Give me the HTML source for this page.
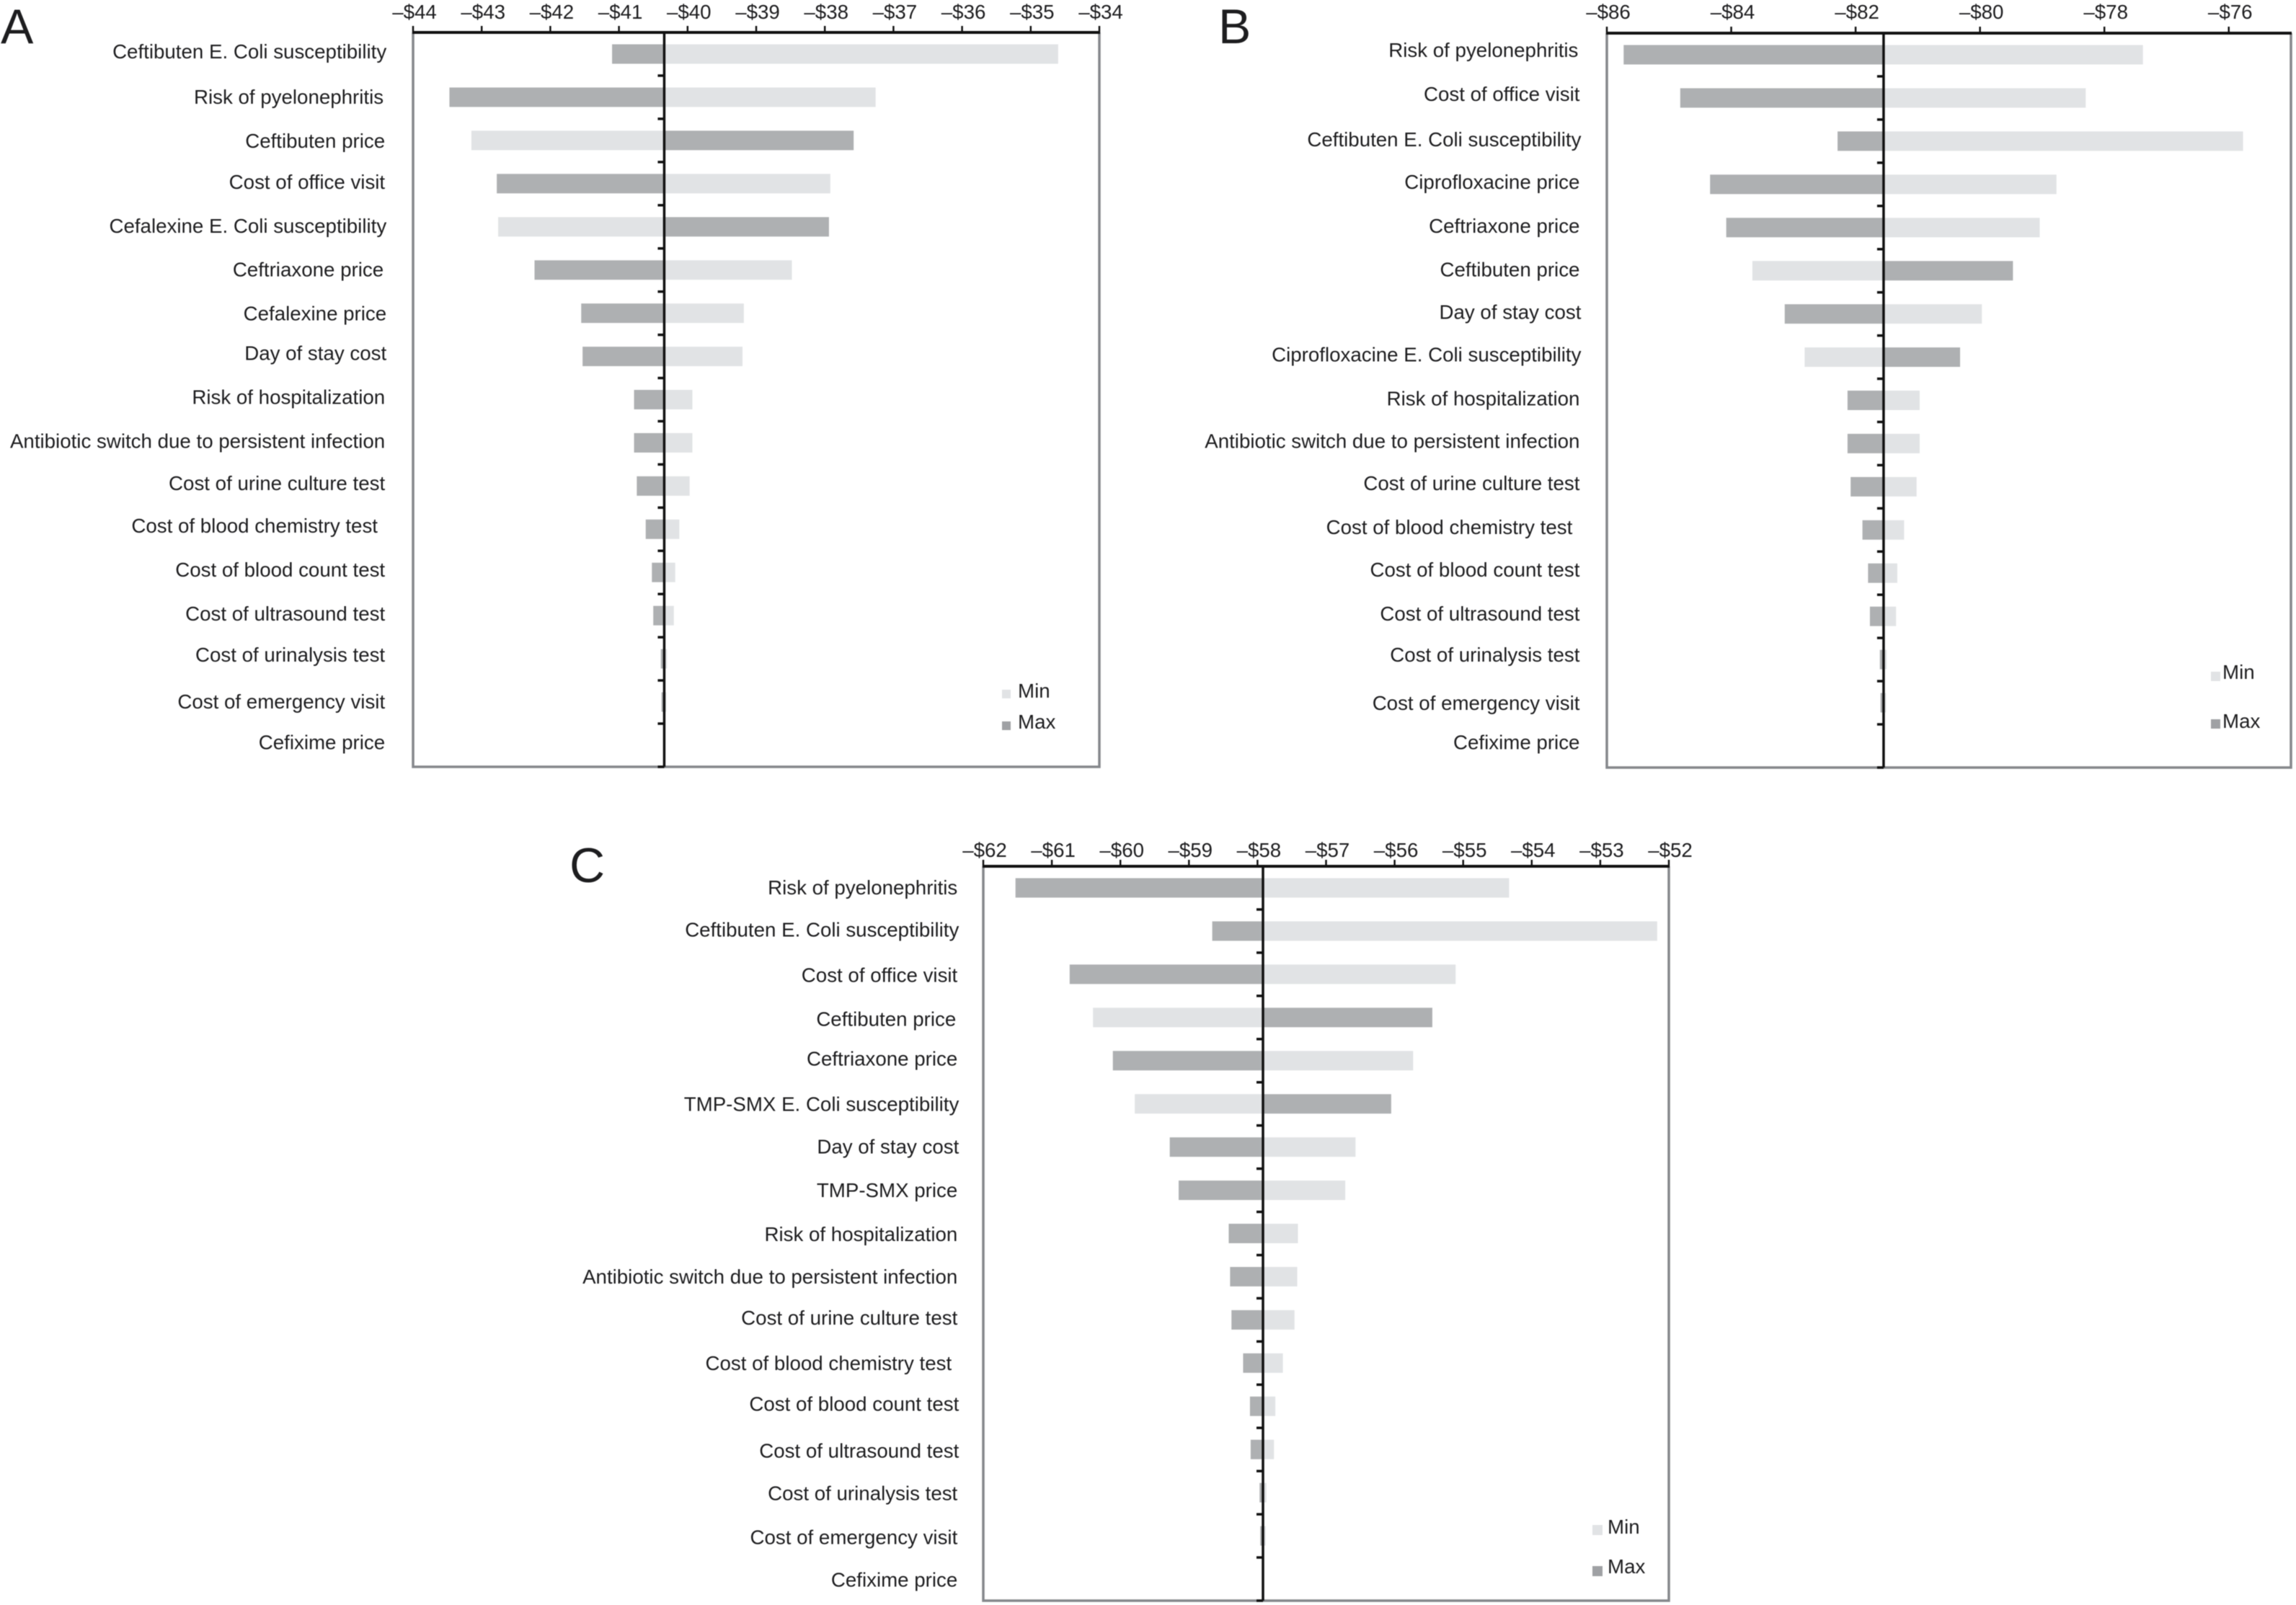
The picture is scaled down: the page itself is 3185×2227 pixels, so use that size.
<!DOCTYPE html>
<html lang="en">
<head>
<meta charset="utf-8">
<title>Tornado diagrams A, B and C</title>
<style>
html,body{margin:0;padding:0;background:#fff;}
svg{display:block;filter:blur(0.6px);}
text{font-family:"Liberation Sans",Arial,sans-serif;fill:#1d1d1f;}
</style>
</head>
<body>
<svg id="figure" xmlns="http://www.w3.org/2000/svg" width="3185" height="2227" viewBox="0 0 3185 2227"></svg>
<script>
// ---------- Data: categories ----------
const categoriesA = ["Ceftibuten E. Coli susceptibility","Risk of pyelonephritis","Ceftibuten price","Cost of office visit","Cefalexine E. Coli susceptibility","Ceftriaxone price","Cefalexine price","Day of stay cost","Risk of hospitalization","Antibiotic switch due to persistent infection","Cost of urine culture test","Cost of blood chemistry test","Cost of blood count test","Cost of ultrasound test","Cost of urinalysis test","Cost of emergency visit","Cefixime price"];
const categoriesB = ["Risk of pyelonephritis","Cost of office visit","Ceftibuten E. Coli susceptibility","Ciprofloxacine price","Ceftriaxone price","Ceftibuten price","Day of stay cost","Ciprofloxacine E. Coli susceptibility","Risk of hospitalization","Antibiotic switch due to persistent infection","Cost of urine culture test","Cost of blood chemistry test","Cost of blood count test","Cost of ultrasound test","Cost of urinalysis test","Cost of emergency visit","Cefixime price"];
const categoriesC = ["Risk of pyelonephritis","Ceftibuten E. Coli susceptibility","Cost of office visit","Ceftibuten price","Ceftriaxone price","TMP-SMX E. Coli susceptibility","Day of stay cost","TMP-SMX price","Risk of hospitalization","Antibiotic switch due to persistent infection","Cost of urine culture test","Cost of blood chemistry test","Cost of blood count test","Cost of ultrasound test","Cost of urinalysis test","Cost of emergency visit","Cefixime price"];

// ---------- Data: outcome when the parameter is at its Min / Max ----------
const minA = [-34.60,-37.26,-43.15,-37.92,-42.76,-38.48,-39.18,-39.20,-39.93,-39.93,-39.97,-40.12,-40.18,-40.20,-40.30,-40.31,-40.34];
const maxA = [-41.10,-43.47,-37.58,-42.78,-37.94,-42.23,-41.55,-41.53,-40.78,-40.78,-40.74,-40.61,-40.52,-40.50,-40.39,-40.38,-40.34];
const minB = [-77.38,-78.30,-75.77,-78.77,-79.04,-83.66,-79.97,-82.82,-80.97,-80.97,-81.02,-81.22,-81.33,-81.35,-81.50,-81.51,-81.55];
const maxB = [-85.73,-84.82,-82.29,-84.34,-84.08,-79.47,-83.14,-80.32,-82.13,-82.13,-82.08,-81.89,-81.80,-81.77,-81.61,-81.60,-81.55];
const minC = [-54.33,-52.17,-55.11,-60.40,-55.73,-59.79,-56.57,-56.72,-57.41,-57.42,-57.46,-57.63,-57.74,-57.76,-57.87,-57.88,-57.92];
const maxC = [-61.53,-58.66,-60.74,-55.45,-60.11,-56.05,-59.28,-59.15,-58.42,-58.40,-58.38,-58.21,-58.11,-58.10,-57.97,-57.96,-57.92];

// ---------- Data: base case and axis ticks ----------
const baseA = -40.34;
const baseB = -81.55;
const baseC = -57.92;
const ticksA = [-44,-43,-42,-41,-40,-39,-38,-37,-36,-35,-34];
const ticksB = [-86,-84,-82,-80,-78,-76];
const ticksC = [-62,-61,-60,-59,-58,-57,-56,-55,-54,-53,-52];
const domainA = [-44,-34];
const domainB = [-86,-75];
const domainC = [-62,-52];

// ---------- Layout (no data values) ----------
const SCALE = 2.031;
const LIGHT = "#e1e3e5", DARK = "#aeb0b2", FRAME = "#85888c", INK = "#111";
const FONT = 27.7;

const panels = [
 {id:"a", letter:"A", letterX:1, letterY:60, left:573, right:1525, top:45, bottom:1064, tickBaseline:26,
  cats:categoriesA, mins:minA, maxs:maxA, base:baseA, ticks:ticksA, domain:domainA,
  lblRight:[264,262,263,263,264,262,264,264,263,263,263,258,263,263,263,263,263],
  lblY:[35,66,96,124,154,184,214,241,271,301,330,359,389,419,447,479,507],
  legend:{sx:1390,minY:957,maxY:1001,size:12,tx:1412,minB:968,maxB:1011}},
 {id:"b", letter:"B", letterX:1690, letterY:60, left:2229, right:3178, top:46, bottom:1065, tickBaseline:26,
  cats:categoriesB, mins:minB, maxs:maxB, base:baseB, ticks:ticksB, domain:domainB,
  lblRight:[1078,1079,1080,1079,1079,1079,1080,1080,1079,1079,1079,1074,1079,1079,1079,1079,1079],
  lblY:[34,64,95,124,154,184,213,242,272,301,330,360,389,419,447,480,507],
  legend:{sx:3067,minY:932,maxY:998,size:13,tx:3083,minB:942,maxB:1010}},
 {id:"c", letter:"C", letterX:790, letterY:1224, left:1364, right:2315, top:1202, bottom:2221, tickBaseline:1189,
  cats:categoriesC, mins:minC, maxs:maxC, base:baseC, ticks:ticksC, domain:domainC,
  lblRight:[654,655,654,653,654,655,655,654,654,654,654,650,655,655,654,654,654],
  lblY:[606,635,666,696,723,754,783,813,843,872,900,931,959,991,1020,1050,1079],
  legend:{sx:2209,minY:2116,maxY:2173,size:14,tx:2230,minB:2128,maxB:2183}}
];

const NS = "http://www.w3.org/2000/svg";
const root = document.getElementById("figure");

function make(tag, parent, attrs){
  const n = document.createElementNS(NS, tag);
  for (const k in attrs) n.setAttribute(k, attrs[k]);
  parent.appendChild(n);
  return n;
}

function slug(s){
  return s.toLowerCase().replace(/[^a-z0-9]+/g, "-").replace(/^-|-$/g, "");
}

panels.forEach(function(p){
  const x = function(v){
    return p.left + (v - p.domain[0]) * (p.right - p.left) / (p.domain[1] - p.domain[0]);
  };
  const rowH = (p.bottom - p.top) / p.cats.length;
  const rowY = function(i){ return p.top + rowH * (i + 0.5); };
  const barH = 27;

  const g = make("g", root, {});
  
  

  const letter = make("text", g, {x:p.letterX, y:p.letterY, "font-size":68});
  letter.textContent = p.letter;
  
  

  // bars
  p.cats.forEach(function(cat, i){
    const xb = x(p.base);
    [[p.mins[i], LIGHT, "min"], [p.maxs[i], DARK, "max"]].forEach(function(s){
      const xv = x(s[0]);
      const bar = make("rect", g, {x:Math.min(xb, xv), y:rowY(i) - barH / 2, width:Math.abs(xv - xb), height:barH, fill:s[1]});
      
      
    });

    const label = make("text", g, {x:p.lblRight[i] * SCALE, y:p.lblY[i] * SCALE + 10, "font-size":FONT, "text-anchor":"end"});
    label.textContent = cat;
    
    
  });

  // frame
  const frame = make("path", g, {d:"M" + p.left + " " + p.top + "V" + p.bottom + "H" + p.right + "V" + p.top, fill:"none", stroke:FRAME, "stroke-width":3.5});
  
  

  // top axis
  const axis = make("line", g, {x1:p.left - 1, x2:p.right + 1, y1:p.top, y2:p.top, stroke:INK, "stroke-width":4});
  
  

  p.ticks.forEach(function(t){
    const tick = make("line", g, {x1:x(t), x2:x(t), y1:p.top, y2:p.top - 9, stroke:INK, "stroke-width":2.5});
    
    

    const tl = make("text", g, {x:x(t) + 2, y:p.tickBaseline, "font-size":FONT, "text-anchor":"middle"});
    tl.textContent = "\u2013$" + Math.abs(t);
    
    
  });

  // base-case line and category ticks
  const xb = x(p.base);
  const baseLine = make("line", g, {x1:xb, x2:xb, y1:p.top, y2:p.bottom, stroke:INK, "stroke-width":3.5});
  
  

  for (let i = 1; i <= p.cats.length; i++) {
    const yT = p.top + rowH * i;
    const ct = make("line", g, {x1:xb - 9, x2:xb, y1:yT, y2:yT, stroke:INK, "stroke-width":3.5});
    
    
  }

  // legend
  const L = p.legend;
  const sw1 = make("rect", g, {x:L.sx, y:L.minY, width:L.size, height:L.size, fill:LIGHT});
  
  

  const sw2 = make("rect", g, {x:L.sx, y:L.maxY, width:L.size, height:L.size, fill:"#9fa1a4"});
  
  

  const t1 = make("text", g, {x:L.tx, y:L.minB, "font-size":FONT});
  t1.textContent = "Min";
  
  

  const t2 = make("text", g, {x:L.tx, y:L.maxB, "font-size":FONT});
  t2.textContent = "Max";
  
  
});
</script>
</body>
</html>
